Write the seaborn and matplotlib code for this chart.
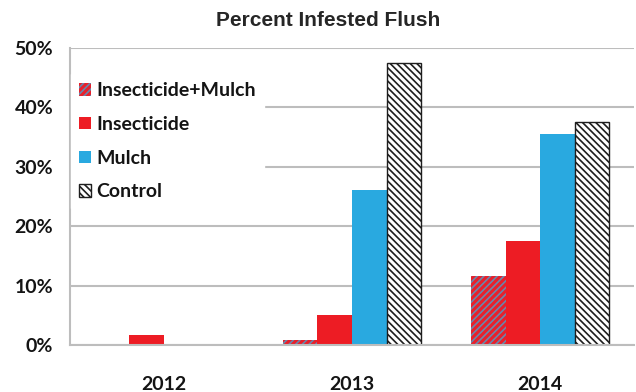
import matplotlib
matplotlib.use("Agg")
import matplotlib.pyplot as plt
import seaborn as sns
import pandas as pd
from matplotlib.patches import Patch

# Percent of flush infested, by treatment and year
years = ["2012", "2013", "2014"]
treatments = ["Insecticide+Mulch", "Insecticide", "Mulch", "Control"]
ins_mulch = [0.0, 0.8, 11.6]
insecticide = [1.7, 5.0, 17.5]
mulch = [0.0, 26.1, 35.5]
control = [0.0, 47.5, 37.5]
yticks = [0, 10, 20, 30, 40, 50]
ytick_labels = ["0%", "10%", "20%", "30%", "40%", "50%"]

series = [ins_mulch, insecticide, mulch, control]
rows = []
for name, vals in zip(treatments, series):
    for yr, v in zip(years, vals):
        rows.append({"Year": yr, "Treatment": name, "Percent": v})
df = pd.DataFrame(rows)

sns.set_style("white")
plt.rcParams["font.family"] = ["Lato", "DejaVu Sans"]
plt.rcParams["hatch.linewidth"] = 1.2

styles = {
    "Insecticide+Mulch": dict(facecolor="#E8202A", edgecolor="#6A86AC", hatch="/////", linewidth=0),
    "Insecticide": dict(facecolor="#ED1C24", edgecolor="#ED1C24", hatch=None, linewidth=0),
    "Mulch": dict(facecolor="#29A9E0", edgecolor="#29A9E0", hatch=None, linewidth=0),
    "Control": dict(facecolor="white", edgecolor="#1E1E1E", hatch="\\\\\\\\\\", linewidth=1.0),
}

fig = plt.figure(figsize=(6.36, 3.92), dpi=100)
ax = fig.add_axes([0.110, 0.120, 0.887, 0.758])

sns.barplot(data=df, x="Year", y="Percent", hue="Treatment",
            hue_order=treatments, order=years, width=0.735,
            errorbar=None, ax=ax, legend=False, zorder=3)

for name, cont in zip(treatments, ax.containers):
    st = styles[name]
    for bar in cont:
        if bar.get_height() <= 0:
            bar.set_visible(False)
            continue
        bar.set_facecolor(st["facecolor"])
        bar.set_edgecolor(st["edgecolor"])
        bar.set_linewidth(st["linewidth"])
        if st["hatch"]:
            bar.set_hatch(st["hatch"])

ax.set_ylim(0, 50)
ax.set_xlim(-0.5, 2.5)
ax.set_yticks(yticks)
ax.set_yticklabels(ytick_labels, fontsize=14, fontweight="bold", color="#141414")
ax.set_xticks(range(len(years)))
ax.set_xticklabels(years, fontsize=14, fontweight="bold", color="#141414")
ax.tick_params(axis="both", length=0)
ax.tick_params(axis="y", pad=12)
ax.tick_params(axis="x", pad=22)
ax.set_xlabel("")
ax.set_ylabel("")

ax.yaxis.grid(True, color="#BDBDBD", linewidth=1.5, zorder=0)
ax.set_axisbelow(True)
for side in ["top", "right"]:
    ax.spines[side].set_visible(False)
for side in ["left", "bottom"]:
    ax.spines[side].set_color("#BDBDBD")
    ax.spines[side].set_linewidth(1.5)
    ax.spines[side].set_zorder(4)

handles = []
for name in treatments:
    st = styles[name]
    handles.append(Patch(facecolor=st["facecolor"], edgecolor=st["edgecolor"],
                         hatch=st["hatch"], linewidth=st["linewidth"]))
leg = ax.legend(handles, treatments, loc="upper left", bbox_to_anchor=(-0.008, 0.93),
                frameon=True, facecolor="white", edgecolor="white", framealpha=1,
                fancybox=False, handlelength=0.6, handleheight=0.6,
                handletextpad=0.3, labelspacing=0.86, borderaxespad=0.3,
                prop={"family": "Lato", "weight": "bold", "size": 14})
for t in leg.get_texts():
    t.set_color("#141414")
leg.set_zorder(5)

fig.text(0.516, 0.948, "Percent Infested Flush", ha="center", va="center",
         fontsize=15, fontweight="bold", family="Liberation Sans")

fig.savefig("out.png", dpi=100)
